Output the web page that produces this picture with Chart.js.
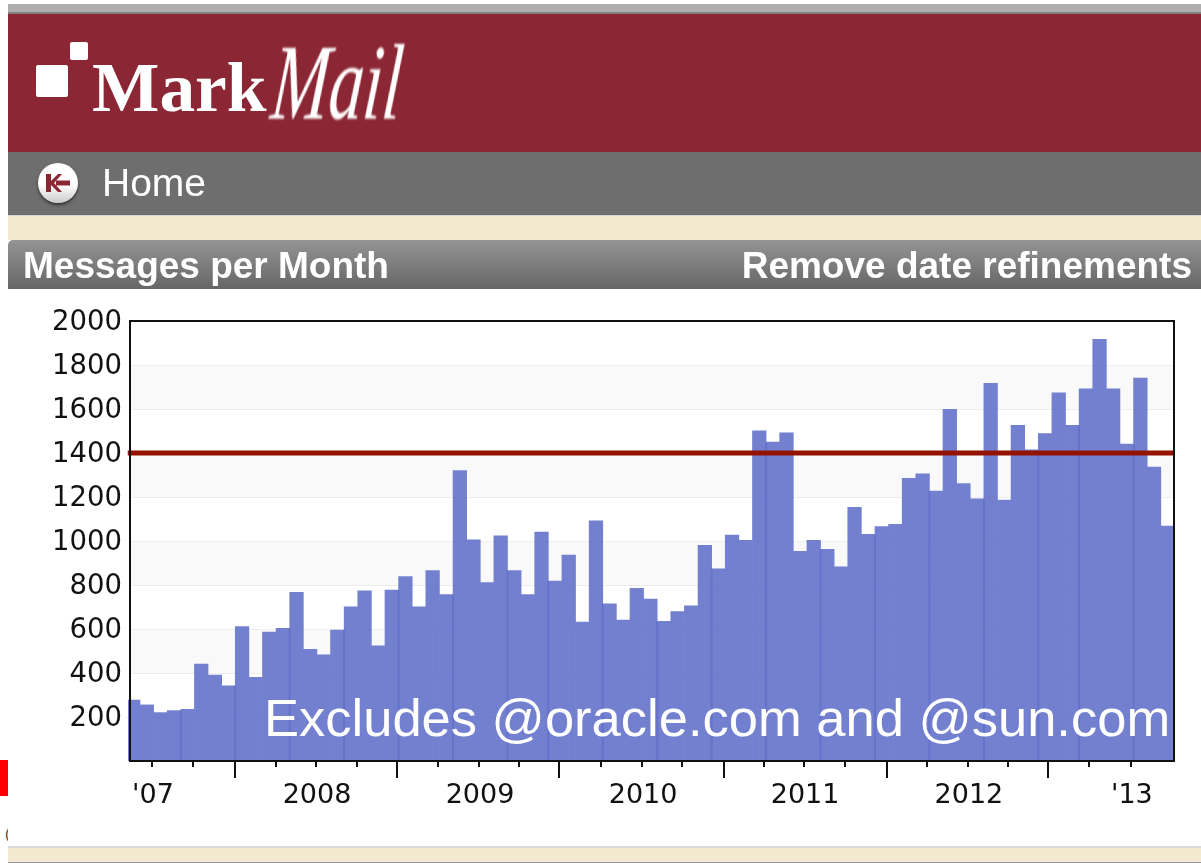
<!DOCTYPE html>
<html>
<head>
<meta charset="utf-8">
<title>MarkMail - Messages per Month</title>
<script src="https://cdn.jsdelivr.net/npm/chart.js@4"></script>
<style>
html, body { margin: 0; padding: 0; background: #fff; overflow: hidden; }
body { width: 1201px; height: 863px; position: relative; font-family: "Liberation Sans", sans-serif; }
.box { position: absolute; left: 8px; right: 0; }
.txt { position: absolute; white-space: nowrap; line-height: 1; }
.soft { filter: blur(0.7px); }
#topbar { top: 4px; height: 8px; background: #aeaeae; border-bottom: 2px solid #808080; }
#redbar { top: 14px; height: 138px; background: #8b2634; }
#navbar { top: 152px; height: 63px; background: #6e6e6e; }
#cream1 { top: 215px; height: 25px; background: #f2ead0; border-top: 1px solid #d8d8d0; box-sizing: border-box; }
#head { top: 240px; height: 49px; background: linear-gradient(#949494, #666666); border-radius: 5px 0 0 0; }
#cream2 { top: 846px; height: 17px; background: #f2ead0; border-top: 2px solid #d9d9d9; border-bottom: 1px solid #999; box-sizing: border-box; }
#redmark { position: absolute; left: 0; top: 760px; width: 8px; height: 36px; background: #ff0000; }
#sq1 { position: absolute; left: 70px; top: 42px; width: 18px; height: 18px; background: #fff; border-radius: 2px; }
#sq2 { position: absolute; left: 36px; top: 65px; width: 32px; height: 32px; background: #fff; border-radius: 2px; }
#homebtn { position: absolute; left: 38px; top: 163px; width: 40px; height: 40px; border-radius: 50%;
  background: linear-gradient(#ffffff 55%, #c9c9c9); box-shadow: 0 2px 3px rgba(0,0,0,.55); }
canvas { position: absolute; left: 0; top: 0; filter: blur(0.6px); }
#note { position: absolute; left: 264px; top: 692px; font-size: 52.5px; color: #fff; white-space: nowrap; line-height: 1; }
</style>
</head>
<body>
<div class="box" id="topbar"></div>
<div class="box" id="redbar"></div>
<div class="box" id="navbar"></div>
<div class="box" id="cream1"></div>
<div class="box" id="head"></div>
<div class="box" id="cream2"></div>
<div id="redmark"></div>

<div id="sq1"></div>
<div id="sq2"></div>
<div class="txt soft" style="left:92px;top:48px;font:bold 70px 'Liberation Serif';color:#fff;transform:scaleX(1.02);transform-origin:left top;">Mark</div>
<div class="txt soft" style="left:278px;top:22px;font:italic 82px 'Liberation Serif';color:#fff;transform:scale(0.84,1.3) skewX(-8deg);transform-origin:left top;">Mail</div>

<div id="homebtn">
  <svg width="40" height="40" viewBox="0 0 40 40">
    <path d="M8 11v18h5v-7l7 7h4l-8-9 8-9h-4l-7 7v-7z M18 17.500h14v5H18z" fill="#8b2634"/>
  </svg>
</div>
<div class="txt soft" style="left:102px;top:163px;font-size:39px;color:#fff;">Home</div>
<div class="txt soft" style="left:23px;top:247px;font-size:37px;font-weight:bold;color:#fff;">Messages per Month</div>
<div class="txt soft" style="right:9px;top:247px;font-size:37px;font-weight:bold;color:#fff;">Remove date refinements</div>
<div class="txt" style="left:5px;top:826px;font-size:15px;color:#444;width:3px;overflow:hidden;">(</div>

<canvas id="monthChart" width="1201" height="863"></canvas>
<div id="note">Excludes @oracle.com and @sun.com</div>

<script>
// --- Data ---
const messages = [
    277, 255, 220, 229, 235, 441, 391, 342, 611, 380, 586, 603,
    767, 508, 483, 595, 701, 774, 523, 777, 838, 701, 865, 756,
    1320, 1005, 811, 1024, 865, 756, 1041, 818, 936, 632, 1092, 714,
    641, 785, 736, 635, 679, 705, 980, 873, 1027, 1003, 1501, 1450,
    1492, 953, 1003, 962, 883, 1153, 1030, 1065, 1076, 1285, 1305, 1227,
    1598, 1261, 1192, 1717, 1186, 1526, 1414, 1488, 1674, 1526, 1692, 1917,
    1692, 1441, 1741, 1336, 1068
];
const limitLevel = 1400;
const yTicks = [200, 400, 600, 800, 1000, 1200, 1400, 1600, 1800, 2000];
const shadedBands = [[0, 200], [400, 600], [800, 1000], [1200, 1400], [1600, 1800]];

// x axis ticks, in bar positions (one bar per month)
const xTicks = [
    1.38, 4.39, 7.48, 10.49, 13.43, 16.44, 19.38, 22.4, 25.41, 28.35, 31.29, 34.38, 37.39,
    40.32, 43.41, 46.35, 49.29, 52.3, 55.38, 58.32, 61.33, 64.27, 67.21, 70.22, 73.3
];
const longTicks = [7.48, 19.38, 31.29, 43.41, 55.38, 67.21];
const yearTicks = [1.38, 13.43, 25.41, 37.39, 49.29, 61.33, 73.3];
const yearLabels = ["'07", '2008', '2009', '2010', '2011', '2012', "'13"];

// bar boundaries where neighbouring bars overlap and show darker
const overlapEdges = [4, 8, 12, 16, 20, 24, 28, 31, 35, 39, 43, 47, 51, 55, 59, 63, 67, 70, 74];

// --- Plugins for the parts the library has no option for ---
const bandsPlugin = {
    id: 'bands',
    beforeDatasetsDraw(chart) {
        const { ctx, chartArea: a, scales: { y } } = chart;
        ctx.save();
        ctx.fillStyle = '#f9f9f9';
        shadedBands.forEach(b => {
            const top = y.getPixelForValue(b[1]);
            ctx.fillRect(a.left, top, a.width, y.getPixelForValue(b[0]) - top);
        });
        ctx.strokeStyle = '#eeeeee';
        ctx.lineWidth = 1;
        yTicks.forEach(v => {
            const py = Math.round(y.getPixelForValue(v)) + 0.5;
            ctx.beginPath();
            ctx.moveTo(a.left, py);
            ctx.lineTo(a.right, py);
            ctx.stroke();
        });
        ctx.restore();
    }
};

const framePlugin = {
    id: 'frame',
    afterDatasetDraw(chart, args) {
        if (args.index !== 1) return;
        const { ctx, scales: { x, y } } = chart;
        ctx.save();
        // grid shows faintly through the bars
        ctx.strokeStyle = 'rgba(60, 78, 190, 0.07)';
        ctx.lineWidth = 1;
        yTicks.forEach(v => {
            const py = Math.round(y.getPixelForValue(v)) + 0.5;
            messages.forEach((m, i) => {
                if (m < v) return;
                ctx.beginPath();
                ctx.moveTo(x.getPixelForValue(i - 0.5), py);
                ctx.lineTo(x.getPixelForValue(i + 0.5), py);
                ctx.stroke();
            });
        });
        ctx.strokeStyle = 'rgba(60, 78, 190, 0.28)';
        ctx.lineWidth = 2;
        overlapEdges.forEach(b => {
            const px = x.getPixelForValue(b - 0.5);
            const v = Math.min(messages[b - 1], messages[b]);
            ctx.beginPath();
            ctx.moveTo(px, y.getPixelForValue(0));
            ctx.lineTo(px, y.getPixelForValue(v));
            ctx.stroke();
        });
        ctx.restore();
    },
    afterDraw(chart) {
        const { ctx, chartArea: a, scales: { x } } = chart;
        ctx.save();
        ctx.strokeStyle = '#111';
        ctx.lineWidth = 2;
        ctx.strokeRect(a.left, a.top, a.width, a.height);
        xTicks.forEach(v => {
            const px = Math.round(x.getPixelForValue(v));
            ctx.beginPath();
            ctx.moveTo(px, a.bottom);
            ctx.lineTo(px, a.bottom + (longTicks.includes(v) ? 17 : 6));
            ctx.stroke();
        });
        ctx.restore();
    }
};

// --- Chart setup ---
new Chart(document.getElementById('monthChart').getContext('2d'), {
    data: {
        datasets: [{
            type: 'line',
            data: [{ x: -0.4, y: limitLevel }, { x: 76.47, y: limitLevel }],
            borderColor: '#931200',
            borderWidth: 5,
            pointRadius: 0,
            clip: false,
            order: 1
        }, {
            type: 'bar',
            data: messages.map((v, i) => ({ x: i, y: v })),
            backgroundColor: '#7380cf',
            barPercentage: 1,
            categoryPercentage: 1,
            clip: { left: 2, top: 0, right: 0, bottom: 0 },
            order: 2
        }]
    },
    options: {
        responsive: false,
        animation: false,
        events: [],
        layout: { padding: { left: 0, top: 321, right: 27, bottom: 42 } },
        plugins: { legend: { display: false }, tooltip: { enabled: false } },
        scales: {
            x: {
                type: 'linear',
                offset: false,
                min: -0.235,
                max: 76.47,
                grid: { display: false, drawTicks: false, offset: false },
                border: { display: false },
                afterBuildTicks(scale) {
                    scale.ticks = yearTicks.map(v => ({ value: v }));
                },
                afterFit(scale) { scale.height = 60; },
                ticks: {
                    autoSkip: false,
                    maxRotation: 0,
                    padding: 19,
                    labelOffset: 1,
                    color: '#111',
                    font: { family: 'DejaVu Sans', size: 27 },
                    callback: v => yearLabels[yearTicks.indexOf(v)]
                }
            },
            y: {
                min: 0,
                max: 2000,
                grid: { display: false, drawTicks: false },
                border: { display: false },
                afterBuildTicks(scale) {
                    scale.ticks = yTicks.map(v => ({ value: v }));
                },
                afterFit(scale) { scale.width = 130; },
                ticks: {
                    padding: 8,
                    labelOffset: 2,
                    color: '#111',
                    font: { family: 'DejaVu Sans', size: 27.5 },
                    callback: v => String(v)
                }
            }
        }
    },
    plugins: [bandsPlugin, framePlugin]
});
</script>
</body>
</html>
